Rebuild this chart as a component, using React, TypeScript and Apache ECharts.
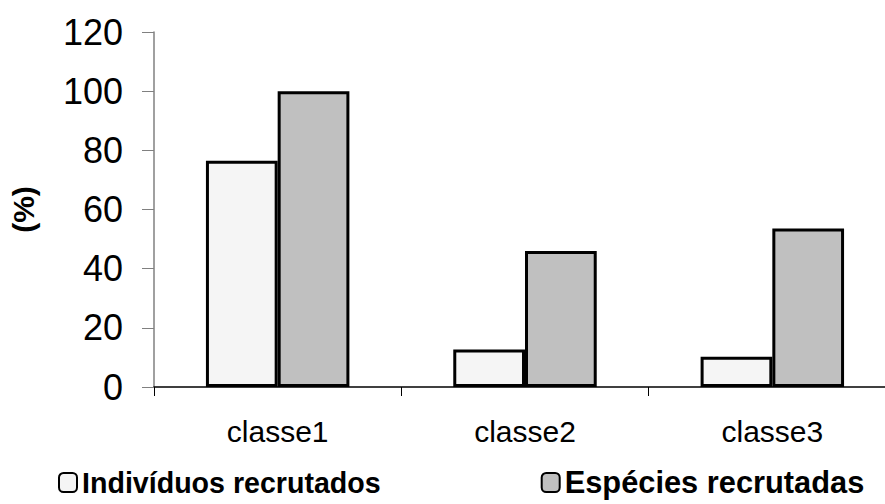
import React, { useEffect, useRef } from "react";
import * as echarts from "echarts";

const categories = ["classe1", "classe2", "classe3"];
const individuos = [76.5, 12.7, 10.2];
const especies = [100, 46, 53.6];
const seriesNames = ["Indivíduos recrutados", "Espécies recrutadas"];
const yAxisName = "(%)";

export default function App() {
  const ref = useRef<HTMLDivElement>(null);
  useEffect(() => {
    const chart = echarts.init(ref.current!, null, { renderer: "svg" });
    const font = "'Liberation Sans', Arial, sans-serif";
    chart.setOption({
      animation: false,
      backgroundColor: "#ffffff",
      grid: { left: 153, top: 32, width: 743, height: 355 },
      legend: {
        left: 58,
        top: 467,
        padding: 0,
        itemGap: 160,
        itemWidth: 18,
        itemHeight: 19,
        icon: "roundRect",
        textStyle: { fontFamily: font, fontWeight: "bold", fontSize: 28.6, color: "#000" },
        itemStyle: { borderColor: "#000", borderWidth: 2 },
        data: [
          { name: seriesNames[0] },
          { name: seriesNames[1], textStyle: { fontSize: 30.8 } },
        ],
      },
      xAxis: {
        type: "category",
        data: categories,
        axisLine: { lineStyle: { color: "#000", width: 1.5 } },
        axisTick: { show: true, length: 9, lineStyle: { color: "#000" } },
        axisLabel: { fontFamily: font, fontSize: 30, color: "#000", margin: 29 },
      },
      yAxis: {
        type: "value",
        min: 0,
        max: 120,
        interval: 20,
        name: yAxisName,
        nameLocation: "middle",
        nameGap: 116,
        nameRotate: 90,
        nameTextStyle: { fontFamily: font, fontWeight: "bold", fontSize: 30, color: "#000" },
        splitLine: { show: false },
        axisLine: { show: true, lineStyle: { color: "#808080", width: 1.5 } },
        axisTick: { show: true, length: 12, lineStyle: { color: "#808080" } },
        axisLabel: { fontFamily: font, fontSize: 36, color: "#000", margin: 31 },
      },
      series: [
        {
          name: seriesNames[0],
          type: "bar",
          data: individuos,
          barGap: "0%",
          barCategoryGap: "42%",
          itemStyle: { color: "#f5f5f5", borderColor: "#000", borderWidth: 3 },
        },
        {
          name: seriesNames[1],
          type: "bar",
          data: especies,
          barGap: "0%",
          barCategoryGap: "42%",
          itemStyle: { color: "#c0c0c0", borderColor: "#000", borderWidth: 3 },
        },
      ],
    });
    return () => chart.dispose();
  }, []);
  return (
    <div style={{ position: "absolute", left: 0, top: 0, width: 885, height: 504, overflow: "hidden" }}>
      <div ref={ref} style={{ width: 900, height: 504 }} />
    </div>
  );
}
